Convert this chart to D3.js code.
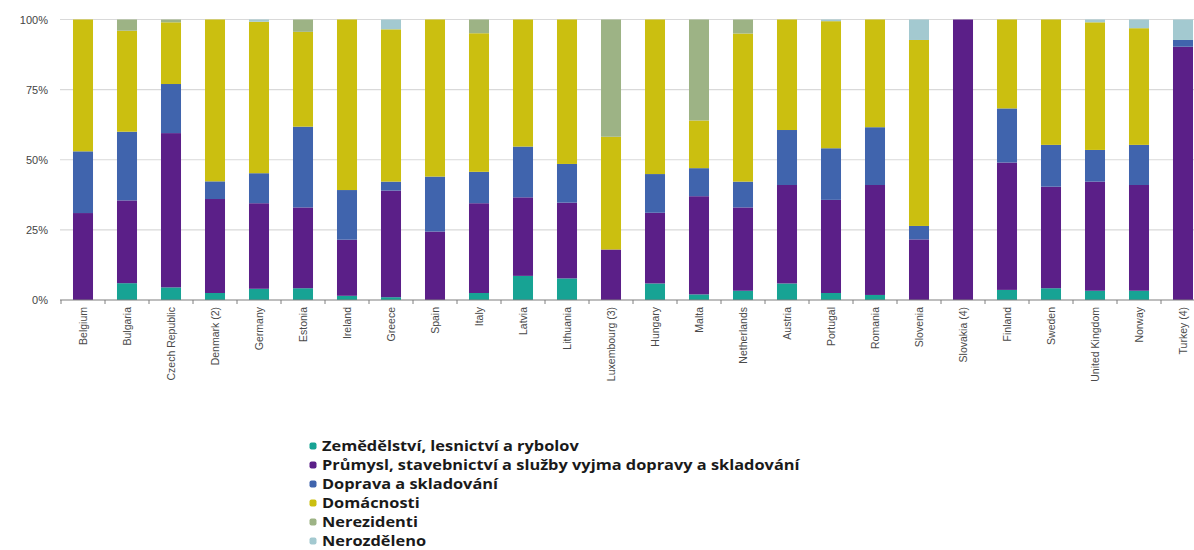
<!DOCTYPE html>
<html>
<head>
<meta charset="utf-8">
<script src="https://cdn.jsdelivr.net/npm/d3@7/dist/d3.min.js"></script>
<style>
  html, body { margin: 0; padding: 0; background: #ffffff; }
  svg { display: block; }
</style>
</head>
<body>
<svg id="chart" width="1194" height="550"></svg>
<script>
// Countries on the x axis
const countries = ["Belgium", "Bulgaria", "Czech Republic", "Denmark (2)", "Germany", "Estonia",
  "Ireland", "Greece", "Spain", "Italy", "Latvia", "Lithuania", "Luxembourg (3)", "Hungary",
  "Malta", "Netherlands", "Austria", "Portugal", "Romania", "Slovenia", "Slovakia (4)",
  "Finland", "Sweden", "United Kingdom", "Norway", "Turkey (4)"];

// Share of each sector (%), one value per country, stacked bottom to top
const zemedelstvi = [0, 6, 4.5, 2.5, 4, 4.2, 1.5, 1, 0, 2.5, 8.6, 7.7, 0, 5.9, 2, 3.3, 5.9, 2.5, 1.8, 0, 0, 3.6, 4.2, 3.3, 3.3, 0];
const prumysl = [31, 29.5, 55, 33.5, 30.5, 28.8, 20, 38, 24.4, 32, 28, 27, 18, 25.2, 35, 29.7, 35.1, 33.2, 39.2, 21.6, 100, 45.4, 36.2, 38.9, 37.7, 90.3];
const doprava = [22, 24.5, 17.5, 6.3, 10.7, 28.8, 17.7, 3.2, 19.6, 11.2, 18.1, 13.8, 0, 13.8, 10, 9.2, 19.6, 18.4, 20.6, 4.8, 0, 19.3, 14.9, 11.3, 14.3, 2.4];
const domacnosti = [47, 36, 22, 57.7, 54, 33.8, 60.8, 54.3, 56, 49.4, 45.3, 51.5, 40.2, 55.1, 17, 52.8, 39.4, 45.3, 38.4, 66.3, 0, 31.7, 44.7, 45.5, 41.6, 0];
const nerezidenti = [0, 4, 1, 0, 0, 4.4, 0, 0, 0, 4.9, 0, 0, 41.8, 0, 36, 5, 0, 0, 0, 0, 0, 0, 0, 0, 0, 0];
const nerozdeleno = [0, 0, 0, 0, 0.8, 0, 0, 3.5, 0, 0, 0, 0, 0, 0, 0, 0, 0, 0.6, 0, 7.3, 0, 0, 0, 1, 3.1, 7.3];

// Legend entries and y-axis tick values
const seriesNames = ["Zemědělství, lesnictví a rybolov",
  "Průmysl, stavebnictví a služby vyjma dopravy a skladování",
  "Doprava a skladování", "Domácnosti", "Nerezidenti", "Nerozděleno"];
const yTicks = [0, 25, 50, 75, 100];

const seriesValues = [zemedelstvi, prumysl, doprava, domacnosti, nerezidenti, nerozdeleno];
const colors = ["#17a394", "#5b1f88", "#4064ad", "#cbbf10", "#9db385", "#a3c9d0"];

const rows = countries.map((c, i) => {
  const r = { country: c };
  seriesNames.forEach((s, k) => { r[s] = seriesValues[k][i]; });
  return r;
});

const svg = d3.select("#chart");

const x = d3.scaleBand().domain(countries).range([61, 1205])
  .paddingInner(0.545).paddingOuter(0.2725);
const y = d3.scaleLinear().domain([0, 100]).range([300, 19.5]);

// horizontal gridlines
svg.append("g")
  .selectAll("line")
  .data(yTicks.filter(d => d > 0))
  .join("line")
  .attr("x1", 60).attr("x2", 1194)
  .attr("y1", d => y(d)).attr("y2", d => y(d))
  .attr("stroke", "#d9d9d9").attr("stroke-width", 1.2);

// y axis labels
const yAxis = svg.append("g").attr("transform", "translate(60,0)")
  .call(d3.axisLeft(y).tickValues(yTicks).tickFormat(d => d + "%").tickSize(0).tickPadding(12));
yAxis.select(".domain").remove();
yAxis.selectAll("text")
  .attr("font-family", "Liberation Sans, Arial, sans-serif")
  .attr("font-size", 11).attr("fill", "#444").attr("dy", "0.35em");

// stacked bars
const stack = d3.stack().keys(seriesNames);
const layers = stack(rows);

svg.append("g")
  .selectAll("g")
  .data(layers)
  .join("g")
  .attr("fill", (d, i) => colors[i])
  .selectAll("rect")
  .data(d => d.filter(p => p[1] - p[0] > 0))
  .join("rect")
  .attr("x", d => x(d.data.country))
  .attr("width", x.bandwidth())
  .attr("y", d => y(d[1]))
  .attr("height", d => y(d[0]) - y(d[1]));

// x axis with ticks between categories
const xAxisG = svg.append("g").attr("transform", "translate(0,300)");
xAxisG.append("line")
  .attr("x1", 60).attr("x2", 1194).attr("y1", 0).attr("y2", 0)
  .attr("stroke", "#7f7f7f").attr("stroke-width", 1.2);
const step = x.step();
xAxisG.selectAll("line.tick")
  .data(d3.range(countries.length + 1))
  .join("line")
  .attr("class", "tick")
  .attr("x1", i => 61 + i * step).attr("x2", i => 61 + i * step)
  .attr("y1", 0).attr("y2", 4)
  .attr("stroke", "#7f7f7f");

xAxisG.selectAll("text")
  .data(countries)
  .join("text")
  .attr("transform", d => `translate(${x(d) + x.bandwidth() / 2 + 4},7) rotate(-90)`)
  .attr("text-anchor", "end")
  .attr("font-family", "Liberation Sans, Arial, sans-serif")
  .attr("font-size", 10.5).attr("fill", "#4a4a4a")
  .text(d => d);

// legend
const legend = svg.append("g").attr("transform", "translate(313,446)");
const item = legend.selectAll("g")
  .data(seriesNames)
  .join("g")
  .attr("transform", (d, i) => `translate(0,${i * 19})`);
item.append("rect").attr("x", -3.5).attr("y", -3.5).attr("width", 7).attr("height", 7)
  .attr("rx", 2)
  .attr("fill", (d, i) => colors[i]);
item.append("text")
  .attr("transform", "translate(9,0) scale(1.17,1)")
  .attr("dy", "0.35em")
  .attr("font-family", "Open Sans, sans-serif")
  .attr("font-weight", 700).attr("font-size", 14).attr("fill", "#1a1a1a")
  .text(d => d);
</script>
</body>
</html>
